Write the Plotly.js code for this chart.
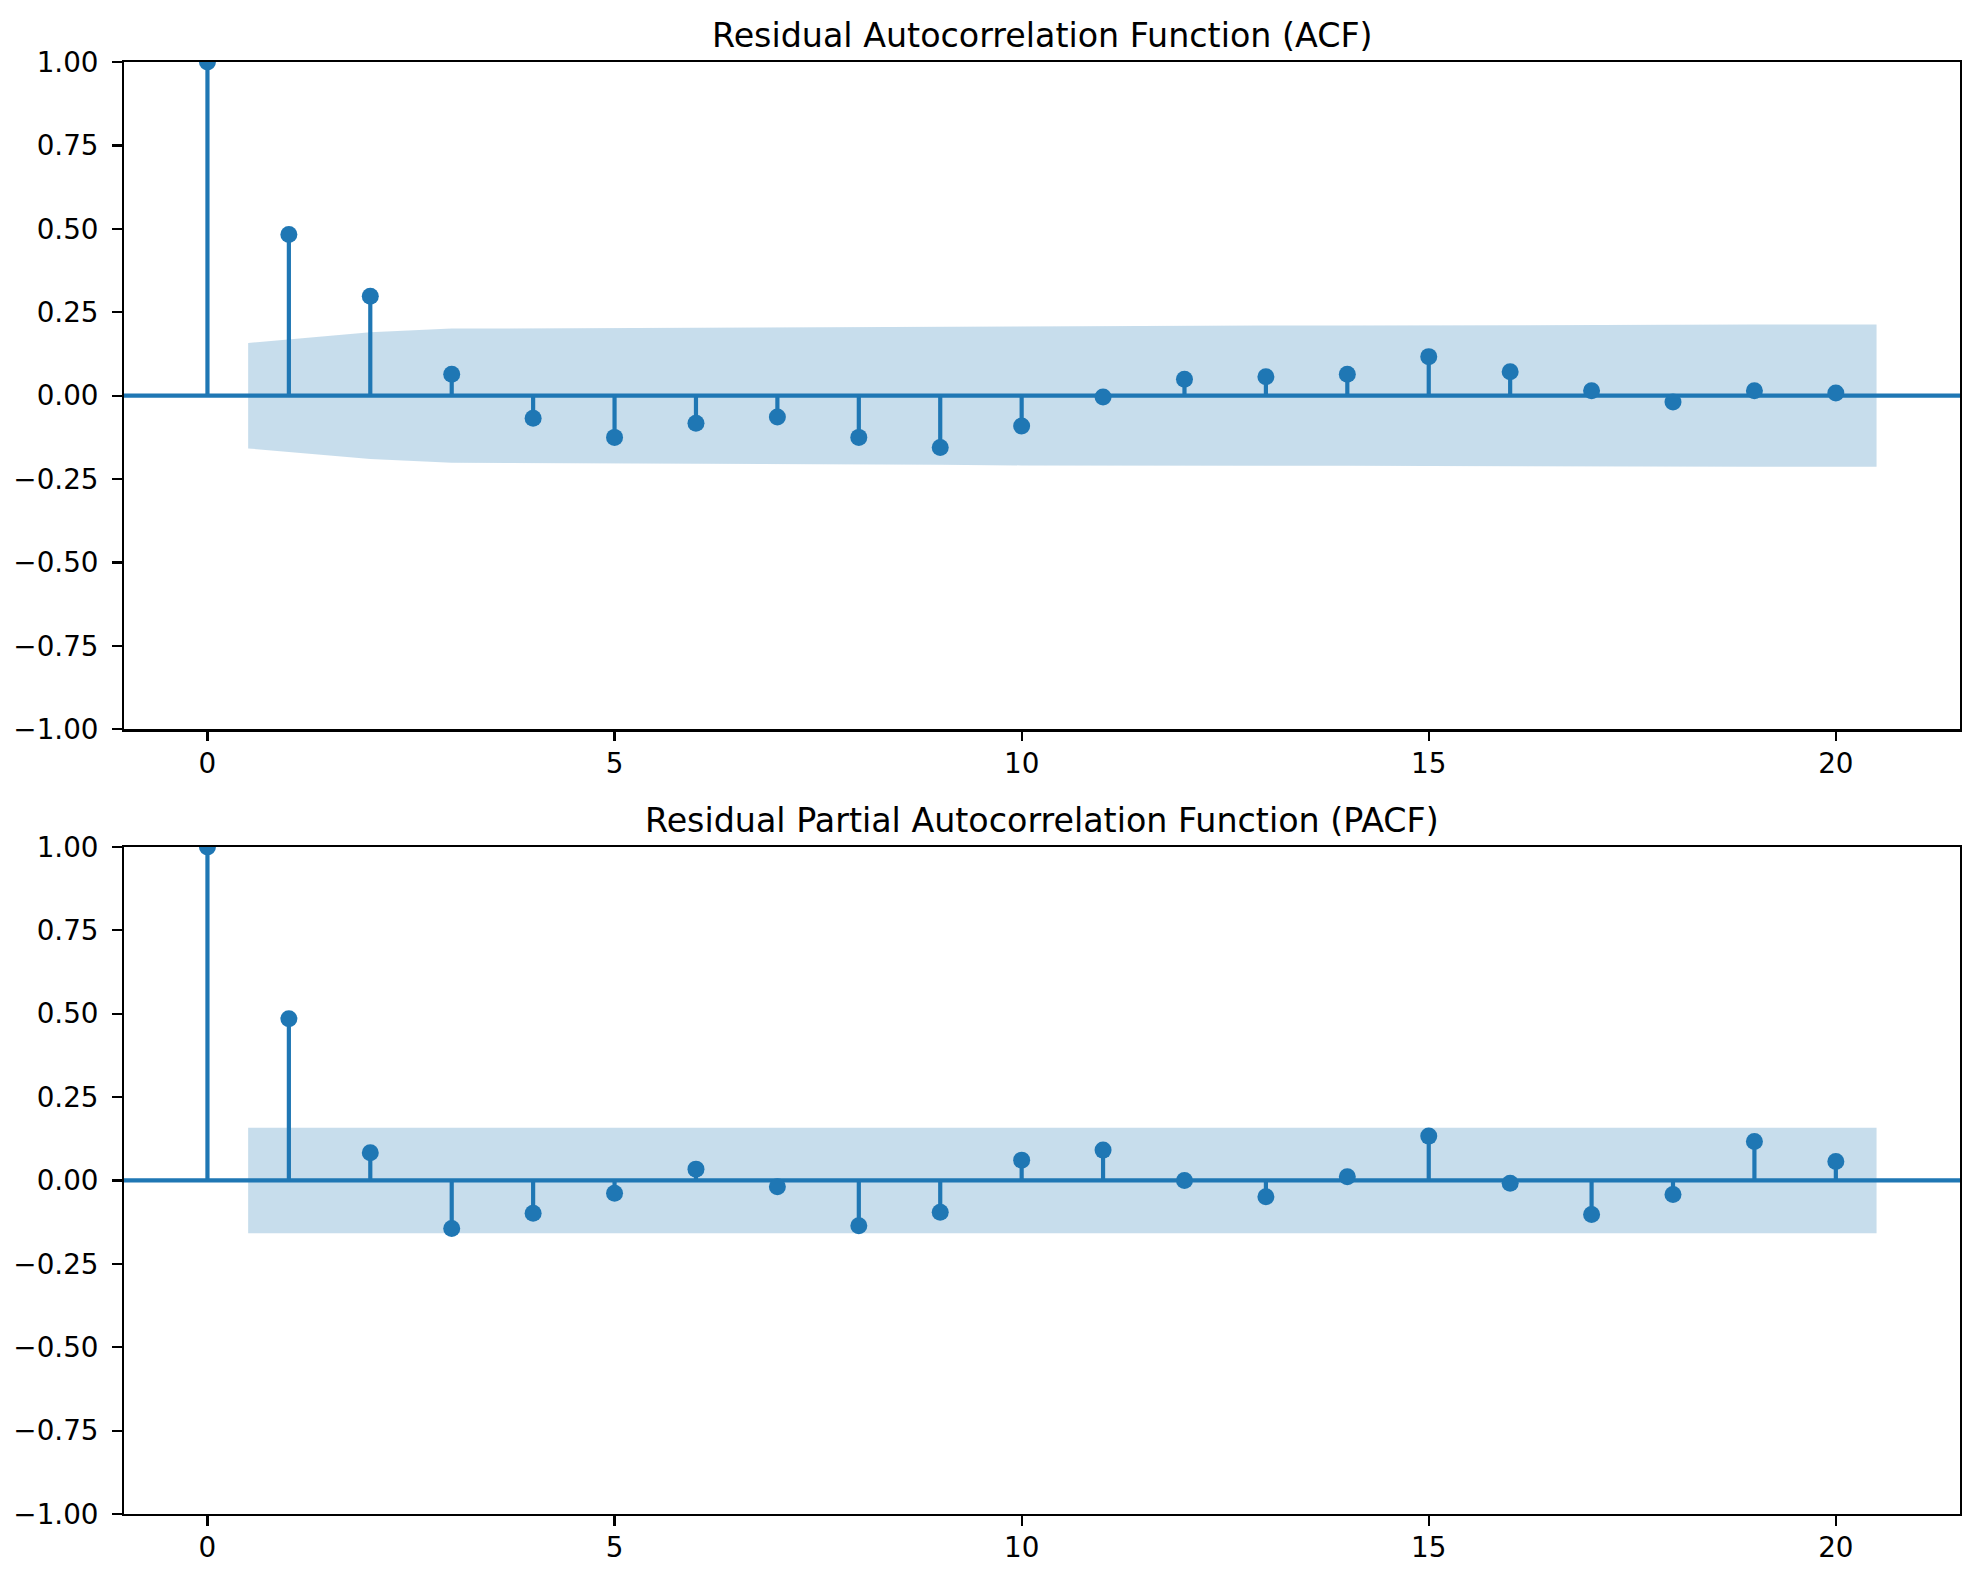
<!DOCTYPE html>
<html>
<head>
<meta charset="utf-8">
<script src="https://cdn.plot.ly/plotly-3.0.1.min.js"></script>
<style>html,body{margin:0;padding:0;background:#fff;}</style>
</head>
<body>
<div id="chart" style="width:1979px;height:1581px;"></div>
<script>
// ---- data ----
const lags = [0,1,2,3,4,5,6,7,8,9,10,11,12,13,14,15,16,17,18,19,20];
const acfValues = [1.0, 0.483, 0.298, 0.064, -0.068, -0.125, -0.083, -0.064, -0.125, -0.155, -0.091,
                   -0.004, 0.049, 0.057, 0.064, 0.117, 0.072, 0.015, -0.019, 0.015, 0.008];
const pacfValues = [1.0, 0.485, 0.083, -0.144, -0.098, -0.038, 0.034, -0.019, -0.136, -0.095, 0.061,
                    0.091, 0.0, -0.049, 0.011, 0.133, -0.008, -0.102, -0.042, 0.117, 0.057];
// confidence band x positions (lag 1 shifted to 0.5, lag 20 to 20.5)
const bandX = [0.5,2,3,4,5,6,7,8,9,10,11,12,13,14,15,16,17,18,19,20.5];
const acfBandUpper = [0.158,0.190,0.201,0.202,0.203,0.205,0.206,0.206,0.207,0.209,
                      0.210,0.210,0.210,0.210,0.211,0.212,0.213,0.213,0.213,0.213];
const acfBandLower = [-0.158,-0.190,-0.201,-0.202,-0.203,-0.205,-0.206,-0.206,-0.207,-0.209,
                      -0.210,-0.210,-0.210,-0.210,-0.211,-0.212,-0.213,-0.213,-0.213,-0.213];
const pacfBandUpper = [0.158,0.158,0.158,0.158,0.158,0.158,0.158,0.158,0.158,0.158,
                       0.158,0.158,0.158,0.158,0.158,0.158,0.158,0.158,0.158,0.158];
const pacfBandLower = [-0.158,-0.158,-0.158,-0.158,-0.158,-0.158,-0.158,-0.158,-0.158,-0.158,
                       -0.158,-0.158,-0.158,-0.158,-0.158,-0.158,-0.158,-0.158,-0.158,-0.158];
const yTickVals = [-1,-0.75,-0.5,-0.25,0,0.25,0.5,0.75,1];
const yTickText = ['\u22121.00','\u22120.75','\u22120.50','\u22120.25','0.00','0.25','0.50','0.75','1.00'];
const xTickVals = [0,5,10,15,20];
const xTickText = ['0','5','10','15','20'];
const titles = ['Residual Autocorrelation Function (ACF)', 'Residual Partial Autocorrelation Function (PACF)'];

// ---- styling ----
const BLUE = '#1f77b4';
const BAND = 'rgba(31,119,180,0.25)';
const FONT = 'DejaVu Sans, sans-serif';
const xRange = [-1.025, 21.525];

function stemXY(xs, ys) {
  const sx = [], sy = [];
  xs.forEach((x, i) => { sx.push(x, x, null); sy.push(0, ys[i], null); });
  return {sx, sy};
}

function panelTraces(vals, up, lo, xa, ya) {
  const st = stemXY(lags, vals);
  return [
    {x: st.sx, y: st.sy, xaxis: xa, yaxis: ya, mode: 'lines', type: 'scatter',
     line: {color: BLUE, width: 4.2}, hoverinfo: 'skip', showlegend: false},
    {x: bandX.concat(bandX.slice().reverse()), y: up.concat(lo.slice().reverse()),
     xaxis: xa, yaxis: ya, mode: 'lines', type: 'scatter', fill: 'toself',
     fillcolor: BAND, line: {width: 0, color: 'rgba(0,0,0,0)'}, hoverinfo: 'skip', showlegend: false},
    {x: xRange, y: [0, 0], xaxis: xa, yaxis: ya, mode: 'lines', type: 'scatter',
     line: {color: BLUE, width: 4.2}, hoverinfo: 'skip', showlegend: false},
    {x: lags, y: vals, xaxis: xa, yaxis: ya, mode: 'markers', type: 'scatter',
     marker: {color: BLUE, size: 17, line: {width: 0}}, showlegend: false}
  ];
}

const data = panelTraces(acfValues, acfBandUpper, acfBandLower, 'x', 'y')
  .concat(panelTraces(pacfValues, pacfBandUpper, pacfBandLower, 'x2', 'y2'));

function xAxis(anchor) {
  return {anchor: anchor, domain: [0, 1], range: xRange, tickmode: 'array', tickvals: xTickVals, ticktext: xTickText,
    showgrid: false, zeroline: false, showline: true, mirror: true, linecolor: 'black', linewidth: 2.2,
    ticks: 'outside', ticklen: 9.7, tickwidth: 2.2, tickcolor: 'black', ticklabelstandoff: -2,
    tickfont: {family: FONT, size: 27.8, color: 'black'}};
}
function yAxis(anchor, domain) {
  return {anchor: anchor, domain: domain, range: [-1, 1], tickmode: 'array', tickvals: yTickVals, ticktext: yTickText,
    showgrid: false, zeroline: false, showline: true, mirror: true, linecolor: 'black', linewidth: 2.2,
    ticks: 'outside', ticklen: 9.7, tickwidth: 2.2, tickcolor: 'black', ticklabelstandoff: 8,
    tickfont: {family: FONT, size: 27.8, color: 'black'}};
}

const layout = {
  width: 1979, height: 1581,
  margin: {l: 124, r: 19, t: 62, b: 67, pad: 0},
  paper_bgcolor: 'white', plot_bgcolor: 'white',
  font: {family: FONT, color: 'black'},
  showlegend: false,
  xaxis: xAxis('y'),
  yaxis: yAxis('x', [0.5404, 1]),
  xaxis2: xAxis('y2'),
  yaxis2: yAxis('x2', [0, 0.4594]),
  annotations: [
    {text: titles[0], xref: 'x domain', yref: 'y domain', x: 0.5, y: 1, xanchor: 'center', yanchor: 'bottom',
     yshift: 5, showarrow: false, font: {family: FONT, size: 33.3, color: 'black'}},
    {text: titles[1], xref: 'x2 domain', yref: 'y2 domain', x: 0.5, y: 1, xanchor: 'center', yanchor: 'bottom',
     yshift: 5, showarrow: false, font: {family: FONT, size: 33.3, color: 'black'}}
  ]
};

Plotly.newPlot('chart', data, layout, {staticPlot: true, displayModeBar: false});
</script>
</body>
</html>
